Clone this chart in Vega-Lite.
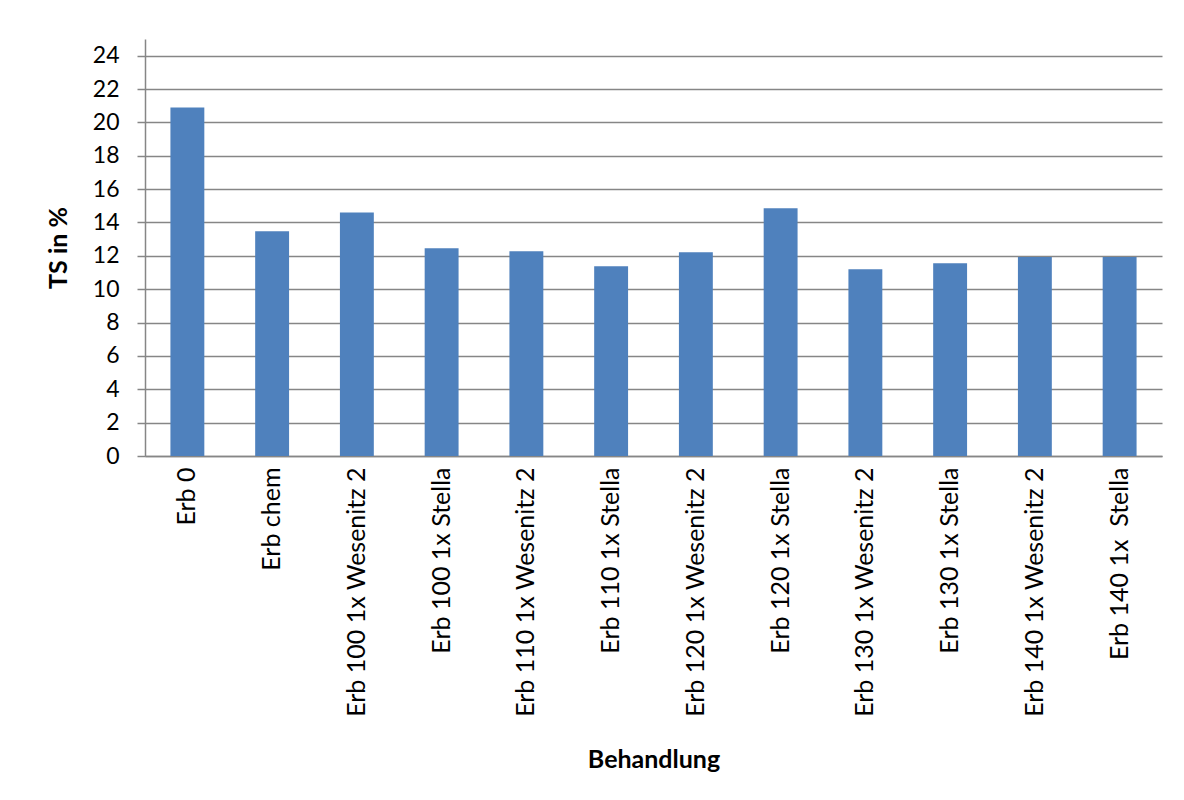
{
  "$schema": "https://vega.github.io/schema/vega-lite/v6.json",
  "width": 1017,
  "height": 417,
  "autosize": {"type": "none"},
  "padding": {"left": 145, "top": 39, "right": 22, "bottom": 344},
  "background": "white",
  "data": {
    "values": [
      {"Behandlung": "Erb 0", "TS": 20.9},
      {"Behandlung": "Erb chem", "TS": 13.47},
      {"Behandlung": "Erb 100 1x Wesenitz 2", "TS": 14.6},
      {"Behandlung": "Erb 100 1x Stella", "TS": 12.45},
      {"Behandlung": "Erb 110 1x Wesenitz 2", "TS": 12.27},
      {"Behandlung": "Erb 110 1x Stella", "TS": 11.37},
      {"Behandlung": "Erb 120 1x Wesenitz 2", "TS": 12.21},
      {"Behandlung": "Erb 120 1x Stella", "TS": 14.85},
      {"Behandlung": "Erb 130 1x Wesenitz 2", "TS": 11.19},
      {"Behandlung": "Erb 130 1x Stella", "TS": 11.55},
      {"Behandlung": "Erb 140 1x Wesenitz 2", "TS": 11.93},
      {"Behandlung": "Erb 140 1x \u00a0Stella", "TS": 11.93}
    ]
  },
  "mark": {"type": "bar", "color": "#4F81BD"},
  "encoding": {
    "x": {
      "field": "Behandlung",
      "type": "nominal",
      "sort": null,
      "scale": {"paddingInner": 0.6, "paddingOuter": 0.3},
      "axis": {
        "title": "Behandlung",
        "labelAngle": -90,
        "labelAlign": "right",
        "labelBaseline": "middle",
        "ticks": false,
        "grid": false,
        "domainColor": "#868686",
        "domainWidth": 1.5,
        "labelPadding": 11,
        "labelLimit": 0,
        "labelFont": "Lato",
        "labelFontSize": 25,
        "labelColor": "black",
        "titleFont": "Lato",
        "titleFontSize": 25,
        "titleFontWeight": "bold",
        "titleColor": "black",
        "titleY": 303,
        "titleBaseline": "middle"
      }
    },
    "y": {
      "field": "TS",
      "type": "quantitative",
      "scale": {"domain": [0, 25], "nice": false},
      "axis": {
        "title": "TS in %",
        "values": [0, 2, 4, 6, 8, 10, 12, 14, 16, 18, 20, 22, 24],
        "grid": true,
        "gridColor": "#868686",
        "gridWidth": 1.5,
        "tickColor": "#868686",
        "tickWidth": 1.5,
        "tickSize": 8,
        "domainColor": "#868686",
        "domainWidth": 1.5,
        "labelPadding": 18,
        "labelFont": "Lato",
        "labelFontSize": 23,
        "labelColor": "black",
        "titleFont": "Lato",
        "titleFontSize": 25,
        "titleFontWeight": "bold",
        "titleColor": "black",
        "titleX": -87,
        "titleBaseline": "middle"
      }
    }
  },
  "config": {"view": {"stroke": null}}
}
